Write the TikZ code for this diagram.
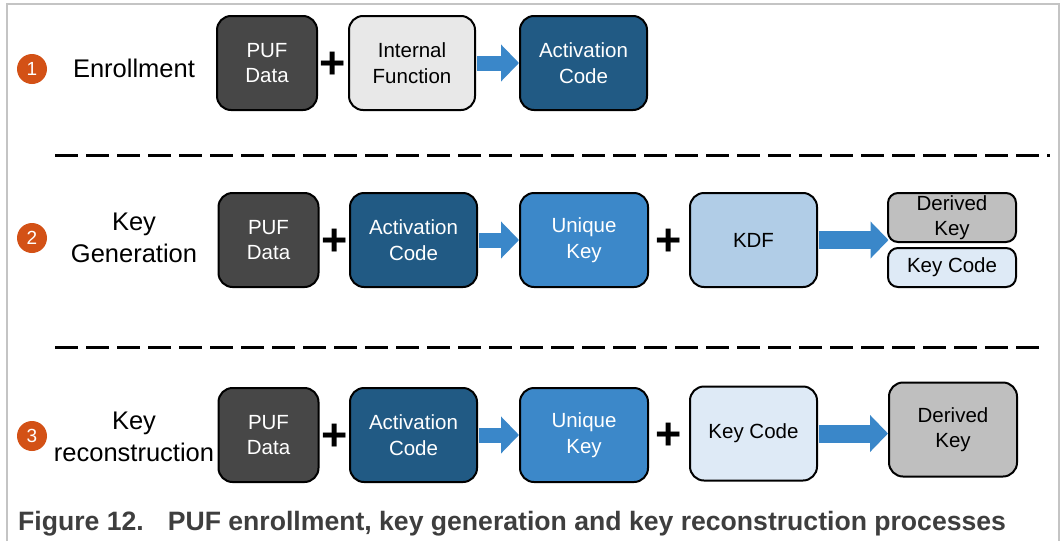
\documentclass[tikz,border=0pt]{standalone}
\usepackage{fontspec}
\setmainfont{Liberation Sans}
\usetikzlibrary{arrows.meta,calc}

\definecolor{pufgrey}{HTML}{474747}
\definecolor{fngrey}{HTML}{E8E8E8}
\definecolor{actblue}{HTML}{215A84}
\definecolor{ukblue}{HTML}{3C88C9}
\definecolor{kdfblue}{HTML}{B1CDE7}
\definecolor{dkgrey}{HTML}{BFBFBF}
\definecolor{kcblue}{HTML}{DEEAF6}
\definecolor{flowblue}{HTML}{3A87C9}
\definecolor{steporange}{HTML}{D35116}
\definecolor{framegrey}{HTML}{C4C4C4}
\definecolor{capgrey}{HTML}{3E3E3E}

\begin{document}
\begin{tikzpicture}[x=1pt,y=-1pt,
  blk/.style={draw=black, line width=2pt, rounded corners=14pt, align=center,
    inner sep=0pt, font=\fontsize{20.5}{25.5}\selectfont},
  bigblk/.style={blk, minimum height=94pt},
  puf/.style={bigblk, fill=pufgrey, text=white, minimum width=100pt},
  fn/.style={bigblk, fill=fngrey, minimum width=126pt},
  act/.style={bigblk, fill=actblue, text=white, minimum width=127pt},
  uk/.style={bigblk, fill=ukblue, text=white, minimum width=128pt},
  kdf/.style={bigblk, fill=kdfblue, minimum width=127pt},
  kc/.style={bigblk, fill=kcblue, minimum width=127pt},
  dk/.style={bigblk, fill=dkgrey, minimum width=128pt},
  smallblk/.style={blk, rounded corners=10pt, minimum width=128pt},
  plus/.style={inner sep=0pt, font=\fontsize{45}{45}\selectfont\bfseries},
  flow/.style={draw=flowblue, line width=15pt, shorten <=1pt,
    -{Triangle[length=18pt,width=36pt]}},
  bigflow/.style={flow, line width=18pt},
  stepnum/.style={circle, fill=steporange, text=white, minimum size=30pt,
    inner sep=0pt, font=\fontsize{19}{19}\selectfont},
  steplabel/.style={align=center, inner sep=0pt, font=\fontsize{25.5}{32}\selectfont},
  divider/.style={line width=3pt, dash pattern=on 23pt off 8pt}
]
\useasboundingbox (0,0) rectangle (1064,541);

% frame (open at the bottom)
\draw[framegrey, line width=1.5pt] (7,541) -- (7,4) -- (1059,4) -- (1059,541);

% ---- 1: enrollment
\node[stepnum] (n1) at (32,69) {1};
\node[steplabel] (l1) at (134,68) {Enrollment};
\node[puf] (puf1) at (267,63) {PUF\\Data};
\node[fn]  (fn1)  at (412,63) {Internal\\Function};
\node[act] (act1) at (583.5,63) {Activation\\Code};
\node[plus] (p11) at ($(puf1.east)!0.5!(fn1.west)$) [yshift=-2pt] {+};
\draw[flow] (fn1) -- (act1);

\draw[divider] (55,155) -- (1050,155);

% ---- 2: key generation
\node[stepnum] (n2) at (32,238) {2};
\node[steplabel] (l2) at (134,238) {Key\\Generation};
\node[puf] (puf2) at (268.5,240) {PUF\\Data};
\node[act] (act2) at (413.5,240) {Activation\\Code};
\node[uk]  (uk2)  at (584,240) {Unique\\Key};
\node[kdf] (kdf2) at (753.5,240) {KDF};
\node[smallblk, fill=dkgrey, minimum height=49pt] (dk2) at (952,217.5) {Derived\\Key};
\node[smallblk, fill=kcblue, minimum height=39pt] (kc2) at (952,267.5) {Key Code};
\coordinate (out2) at (888.5,240);
\node[plus] (p21) at ($(puf2.east)!0.5!(act2.west)$) [yshift=-2pt] {+};
\node[plus] (p22) at ($(uk2.east)!0.5!(kdf2.west)$) [yshift=-2pt] {+};
\draw[flow] (act2) -- (uk2);
\draw[bigflow] (kdf2) -- (out2);

\draw[divider] (55,347) -- (1040,347);

% ---- 3: key reconstruction
\node[stepnum] (n3) at (32,436) {3};
\node[steplabel] (l3) at (134,437) {Key\\reconstruction};
\node[puf] (puf3) at (268.5,435) {PUF\\Data};
\node[act] (act3) at (413.5,435) {Activation\\Code};
\node[uk]  (uk3)  at (584,435) {Unique\\Key};
\node[kc]  (kc3)  at (753.5,433.5) {Key Code};
\node[dk]  (dk3)  at (953,429.5) {Derived\\Key};
\node[plus] (p31) at ($(puf3.east)!0.5!(act3.west)$) [yshift=-2pt] {+};
\node[plus] (p32) at ($(uk3.east)!0.5!(kc3.west)$) [yshift=-2pt] {+};
\draw[flow] (act3) -- (uk3);
\draw[bigflow] (kc3) -- (kc3 -| dk3.west);

% caption
\node[anchor=base west, inner sep=0pt, text=capgrey,
  font=\fontsize{26.6}{30}\selectfont\bfseries] (cap) at (18,530)
  {Figure 12.\hspace{24pt}PUF enrollment, key generation and key reconstruction processes};
\end{tikzpicture}
\end{document}
